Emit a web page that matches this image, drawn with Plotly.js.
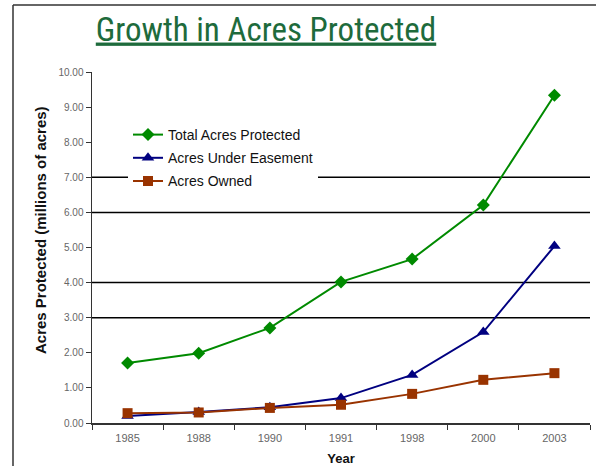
<!DOCTYPE html>
<html>
<head>
<meta charset="utf-8">
<script src="https://cdn.plot.ly/plotly-3.0.1.min.js"></script>
<style>
  html, body { margin: 0; padding: 0; background: #fff; }
  #chart { width: 596px; height: 466px; }
</style>
</head>
<body>
<div id="chart"></div>
<script>
// ---- data ----
const years = ['1985', '1988', '1990', '1991', '1998', '2000', '2003'];
const totalProtected = [1.71, 1.99, 2.71, 4.02, 4.67, 6.21, 9.34];
const underEasement = [0.20, 0.31, 0.45, 0.71, 1.37, 2.59, 5.04];
const owned = [0.28, 0.30, 0.43, 0.52, 0.83, 1.23, 1.42];
const gridValues = [3, 4, 6, 7];
const seriesNames = ['Total Acres Protected', 'Acres Under Easement', 'Acres Owned'];

const W = 596, H = 466;
const M = {l: 92, r: 6, t: 72, b: 43};
const pw = W - M.l - M.r, ph = H - M.t - M.b;
const px = v => (v - M.l) / pw;
const py = v => 1 - (v - M.t) / ph;

const traces = [
  {x: years, y: totalProtected, name: seriesNames[0], legendgroup: 'a', type: 'scatter', mode: 'lines+markers',
   line: {color: '#008a00', width: 2}, marker: {symbol: 'diamond', size: 10, color: '#008a00'}},
  {x: years, y: underEasement, name: seriesNames[1], legendgroup: 'b', type: 'scatter', mode: 'lines+markers',
   line: {color: '#000080', width: 2}, marker: {symbol: 'triangle-up', size: 11, color: '#000080'}},
  {x: years, y: owned, name: seriesNames[2], legendgroup: 'c', type: 'scatter', mode: 'lines+markers',
   line: {color: '#993300', width: 2}, marker: {symbol: 'square', size: 10, color: '#993300'}}
];

const shapes = gridValues.map(v => ({
  type: 'line', xref: 'paper', yref: 'y', x0: 0, x1: 1, y0: v, y1: v,
  line: {color: '#000', width: 1.5}, layer: 'below'
}));
// slide frame
shapes.push({type: 'line', xref: 'paper', yref: 'paper', x0: px(13), x1: px(13), y0: py(5), y1: py(470),
  line: {color: '#333', width: 1.5}});
shapes.push({type: 'line', xref: 'paper', yref: 'paper', x0: px(13), x1: px(600), y0: py(5), y1: py(5),
  line: {color: '#333', width: 1.5}});

const layout = {
  width: W, height: H,
  margin: M,
  paper_bgcolor: '#fff', plot_bgcolor: '#fff',
  font: {family: 'Arial, Liberation Sans, sans-serif', color: '#222'},
  title: {
    text: '<u>Growth in Acres Protected</u>',
    font: {family: '"Liberation Sans Narrow", "Arial Narrow", "Roboto Condensed", sans-serif', size: 33, color: '#1e6b3c'},
    x: 266 / W, xanchor: 'center', xref: 'container',
    y: 1 - 29 / H, yanchor: 'middle', yref: 'container'
  },
  showlegend: true,
  legend: {
    x: px(128), y: py(119), xanchor: 'left', yanchor: 'top',
    bgcolor: '#fff', borderwidth: 0,
    font: {size: 14, color: '#111', family: 'Arial, Liberation Sans, sans-serif'},
    tracegroupgap: 2, traceorder: 'grouped', itemwidth: 30
  },
  xaxis: {
    type: 'category', range: [-0.5, 6.5],
    tickson: 'boundaries', ticks: 'outside', ticklen: 5, tickcolor: '#333',
    showline: true, linecolor: '#333', linewidth: 1.5, showgrid: false, zeroline: false,
    tickfont: {size: 11, color: '#666'}, ticklabelstandoff: 4,
    title: {text: '<b>Year</b>', font: {size: 13, color: '#111'}, standoff: 14}
  },
  yaxis: {
    range: [0, 10], dtick: 1, tickformat: '.2f',
    ticks: 'outside', ticklen: 5, tickcolor: '#333',
    showline: true, linecolor: '#333', linewidth: 1.5, showgrid: false, zeroline: false,
    tickfont: {size: 10, color: '#666'}
  },
  shapes: shapes,
  annotations: [{
    text: '<b>Acres Protected (millions of acres)</b>', textangle: -90,
    xref: 'paper', yref: 'paper', x: px(40), y: py(230), xanchor: 'center', yanchor: 'middle',
    showarrow: false, font: {size: 15, color: '#111'}
  }]
};

Plotly.newPlot('chart', traces, layout, {staticPlot: true, displayModeBar: false});
</script>
</body>
</html>
